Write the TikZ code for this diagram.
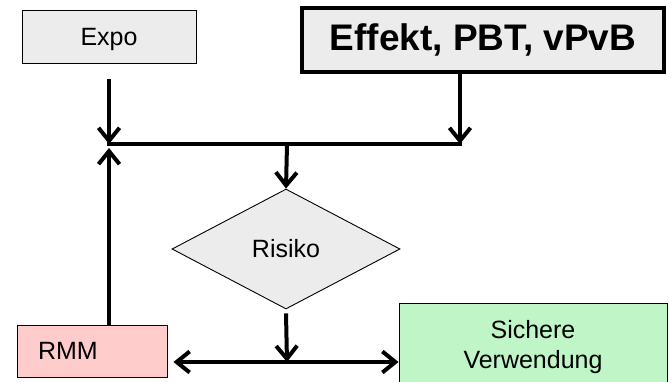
\documentclass[tikz,border=0pt]{standalone}
\usepackage{fontspec}
\setmainfont{Liberation Sans}
\usetikzlibrary{arrows.meta, shapes.geometric, positioning}
\definecolor{boxgray}{HTML}{ECECEC}
\definecolor{rmmred}{HTML}{FFCCCC}
\definecolor{safegreen}{HTML}{C0F5C8}

\begin{document}
\begin{tikzpicture}[x=1pt,y=-1pt,
  box/.style={draw, line width=0.9pt, inner sep=0pt, font=\fontsize{25}{30}\selectfont},
  bar/.style={line width=4pt},
  flow/.style={bar, -{Straight Barb[length=13pt,width=21pt]}}]
\useasboundingbox (0,0) rectangle (669,382);
%boxes on top
\node[box, fill=boxgray, minimum width=174pt, minimum height=53pt, text depth=0pt] (expo) at (109,36.5) {Expo};
\node[box, fill=boxgray, line width=4pt, minimum width=362pt, minimum height=64pt,
      font=\fontsize{37}{40}\selectfont\bfseries] (effekt) at (483,40) {Effekt, PBT, vPvB};
%decision
\node[box, diamond, fill=boxgray, minimum width=228pt, minimum height=120pt] (risiko) at (286,249) {Risiko};
%boxes at the bottom
\node[box, fill=rmmred, text width=108pt, inner xsep=21pt, minimum height=52pt, align=left] (rmm) at (92,351) {RMM};
\node[box, fill=safegreen, minimum width=268pt, minimum height=88pt, align=center] (sicher) at (533,347) {Sichere\\Verwendung};
%junctions
\coordinate (jl) at (109,144);
\coordinate (jm) at (287,144);
\coordinate (jr) at (460,144);
\coordinate (jb) at (287,362);
%arrows
\draw[bar] ([xshift=-2pt]jl) -- ([xshift=2pt]jr);
\draw[flow] ([yshift=-16pt]expo.south) -- (jl);
\draw[flow] ([xshift=-23pt]effekt.south) -- (jr);
\draw[flow] (jm) -- (risiko.north);
\draw[flow] ([xshift=17pt]rmm.north) -- ([yshift=-4pt]jl);
\draw[flow] ([yshift=-4pt]risiko.south) -- (jb);
\draw[flow] (jb) -- ([xshift=6pt]jb -| rmm.east);
\draw[flow] (jb) -- (jb -| sicher.west);
\end{tikzpicture}
\end{document}
